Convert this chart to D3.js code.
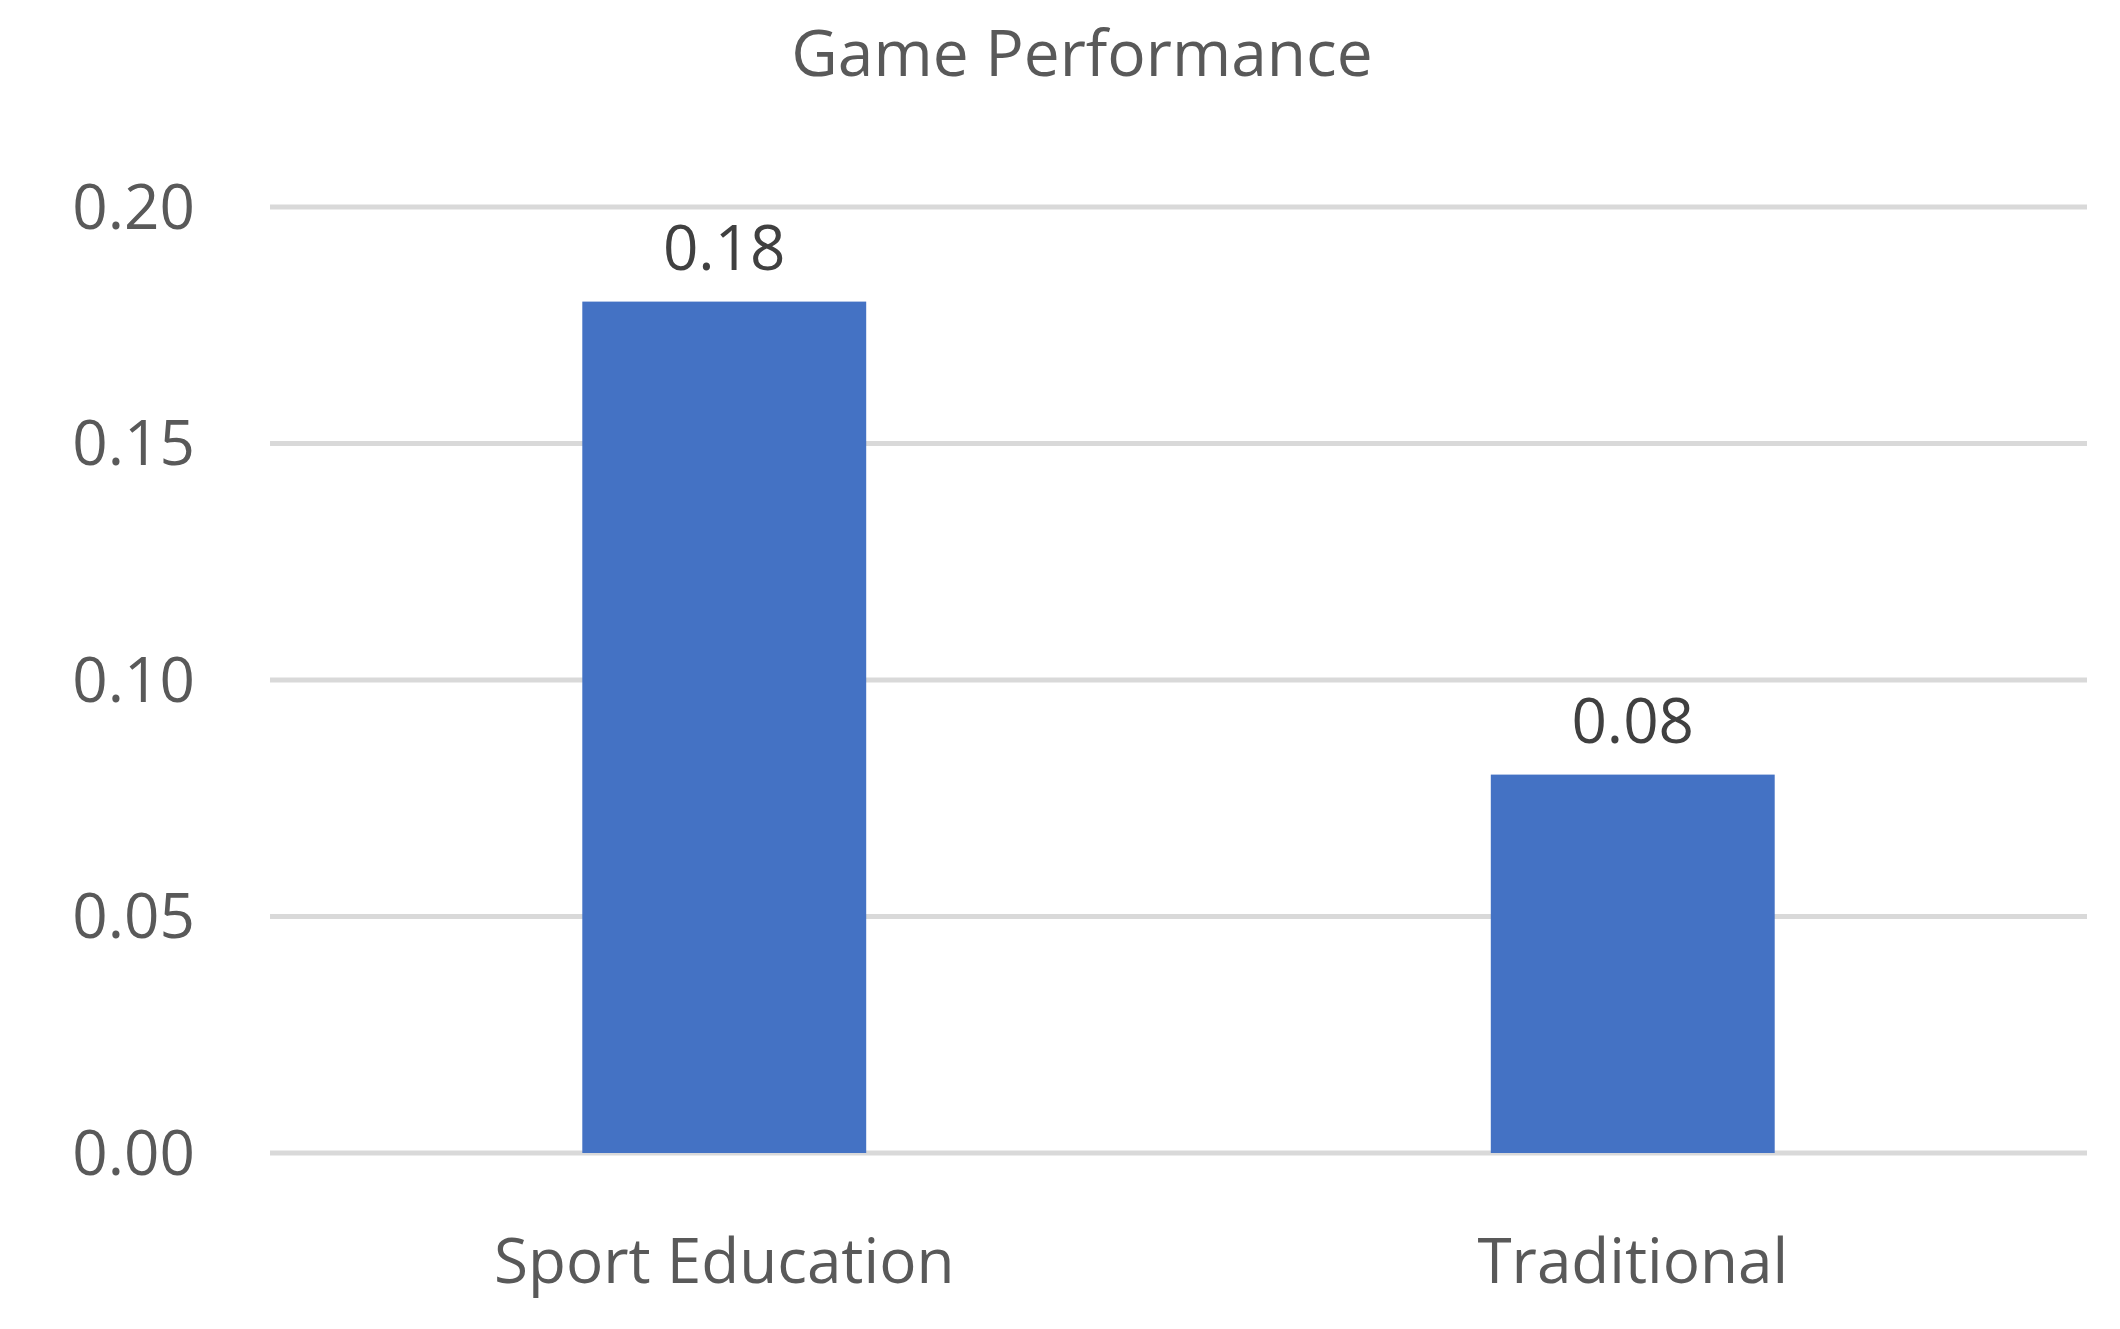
<!DOCTYPE html>
<html><head><meta charset="utf-8">
<script src="https://cdn.jsdelivr.net/npm/d3@7"></script>
<style>body{margin:0;background:#fff}</style>
</head><body>
<svg id="c" width="2120" height="1329"></svg>
<script>
const categories = ["Sport Education", "Traditional"];
const values = [0.18, 0.08];
const tickValues = [0, 0.05, 0.10, 0.15, 0.20];
const title = "Game Performance";

const svg = d3.select("#c");
const L = 270, R = 2087, T = 207, B = 1153;
const font = "'Open Sans', 'Noto Sans', sans-serif";
const x = d3.scaleBand().domain(categories).range([L, R]).padding(0);
const y = d3.scaleLinear().domain([0, 0.2]).range([B, T]);
const barW = x.bandwidth() * 0.3125;

svg.append("text").attr("x", 1082).attr("y", 76).attr("text-anchor", "middle")
  .attr("font-family", font).attr("font-size", 64).attr("fill", "#595959").text(title);

svg.selectAll(".g").data(tickValues).join("line")
  .attr("x1", L).attr("x2", R).attr("y1", d => y(d)).attr("y2", d => y(d))
  .attr("stroke", "#d9d9d9").attr("stroke-width", 5);

svg.selectAll(".t").data(tickValues).join("text")
  .attr("x", 195).attr("y", d => y(d)).attr("dy", "0.35em").attr("text-anchor", "end")
  .attr("font-family", font).attr("font-size", 62).attr("fill", "#595959")
  .text(d => d3.format(".2f")(d));

svg.selectAll(".b").data(values).join("rect")
  .attr("x", (d, i) => x(categories[i]) + x.bandwidth() / 2 - barW / 2)
  .attr("width", barW)
  .attr("y", d => y(d)).attr("height", d => B - y(d))
  .attr("fill", "#4472c4");

svg.selectAll(".v").data(values).join("text")
  .attr("x", (d, i) => x(categories[i]) + x.bandwidth() / 2)
  .attr("y", d => y(d) - 32).attr("text-anchor", "middle")
  .attr("font-family", font).attr("font-size", 62).attr("fill", "#404040")
  .text(d => d3.format(".2f")(d));

svg.selectAll(".c").data(categories).join("text")
  .attr("x", d => x(d) + x.bandwidth() / 2).attr("y", 1283).attr("text-anchor", "middle")
  .attr("font-family", font).attr("font-size", 62).attr("fill", "#595959")
  .text(d => d);
</script>
</body></html>
